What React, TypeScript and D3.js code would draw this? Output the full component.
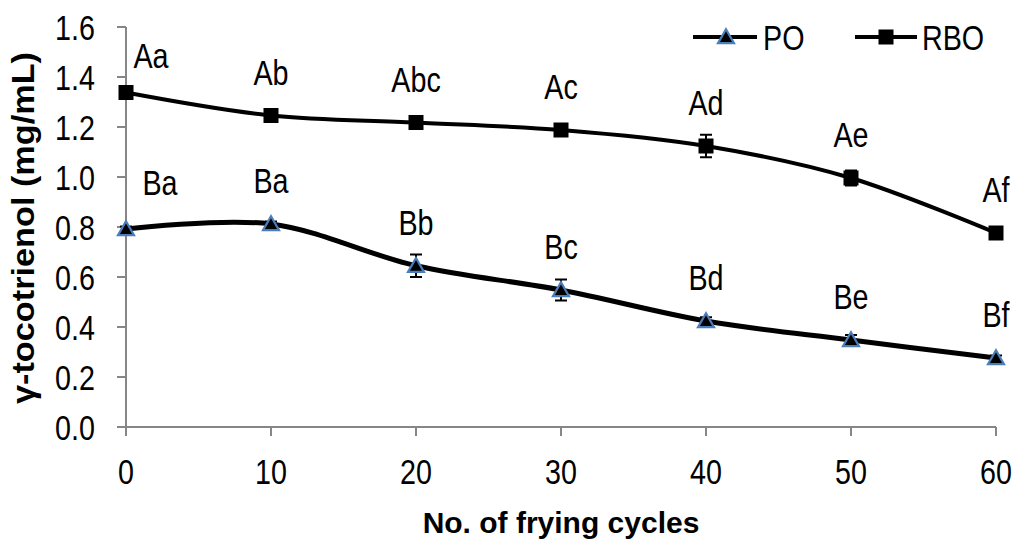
import * as d3 from 'd3';

const cycles = [0, 10, 20, 30, 40, 50, 60];
const poValues = [0.792, 0.812, 0.645, 0.548, 0.424, 0.348, 0.276];
const poErrors = [0.01, 0.01, 0.045, 0.042, 0.015, 0.02, 0.01];
const poLabels = ['Ba', 'Ba', 'Bb', 'Bc', 'Bd', 'Be', 'Bf'];
const rboValues = [1.338, 1.246, 1.218, 1.188, 1.124, 0.996, 0.776];
const rboErrors = [0.022, 0.015, 0.015, 0.015, 0.045, 0.03, 0.015];
const rboLabels = ['Aa', 'Ab', 'Abc', 'Ac', 'Ad', 'Ae', 'Af'];
const yTicks = [0, 0.2, 0.4, 0.6, 0.8, 1.0, 1.2, 1.4, 1.6];
const seriesNames = ['PO', 'RBO'];

const width = 1024;
const height = 550;
const axisColor = '#868686';
const triStroke = '#4a7ebb';
const font = '"Liberation Sans", Arial, sans-serif';

const x = d3.scaleLinear().domain([0, 60]).range([126, 996]);
const y = d3.scaleLinear().domain([0, 1.6]).range([427, 27]);

const line = d3.line<number>()
  .x((_, i) => x(cycles[i]))
  .y(d => y(d))
  .curve(d3.curveCardinal.tension(0));

const triangle = d3.symbol().type(d3.symbolTriangle).size(110);

// condensed text, like the narrow font of the original
const NText = ({ x: tx, y: ty, anchor = 'start', children }:
  { x: number; y: number; anchor?: string; children: any }) => (
  <text transform={`translate(${tx},${ty}) scale(0.82,1)`} textAnchor={anchor}
    fontFamily={font} fontSize={35} fill="#000">{children}</text>
);

const Triangle = ({ cx, cy }: { cx: number; cy: number }) => (
  <path d={triangle() as string} transform={`translate(${cx},${cy + 1.5})`}
    fill="#000" stroke={triStroke} strokeWidth={2.2} />
);

const Square = ({ cx, cy }: { cx: number; cy: number }) => (
  <rect x={cx - 7.5} y={cy - 7.5} width={15} height={15} fill="#000" />
);

const ErrorBars = ({ values, errors }: { values: number[]; errors: number[] }) => (
  <g stroke="#000" strokeWidth={2}>
    {values.map((v, i) => {
      const cx = x(cycles[i]);
      const top = y(v + errors[i]);
      const bot = y(v - errors[i]);
      return (
        <g key={i}>
          <line x1={cx} x2={cx} y1={top} y2={bot} />
          <line x1={cx - 6} x2={cx + 6} y1={top} y2={top} />
          <line x1={cx - 6} x2={cx + 6} y1={bot} y2={bot} />
        </g>
      );
    })}
  </g>
);

const Labels = ({ values, labels, firstShift, firstLift }:
  { values: number[]; labels: string[]; firstShift: number; firstLift: number }) => (
  <g>
    {values.map((v, i) => (
      <NText key={i}
        x={x(cycles[i]) + (i === 0 ? firstShift : 0)}
        y={y(v) - (i === 0 ? firstLift : 31)}
        anchor="middle">{labels[i]}</NText>
    ))}
  </g>
);

export default function App() {
  return (
    <svg width={width} height={height} style={{ position: 'absolute', left: 0, top: 0, background: '#fff' }}>
      {/* y axis */}
      <line x1={x(0)} x2={x(0)} y1={y(1.6)} y2={y(0)} stroke={axisColor} strokeWidth={2} />
      {yTicks.map(t => (
        <g key={t}>
          <line x1={x(0) - 9} x2={x(0)} y1={y(t)} y2={y(t)} stroke={axisColor} strokeWidth={2} />
          <NText x={95} y={y(t) + 12.5} anchor="end">{t.toFixed(1)}</NText>
        </g>
      ))}
      {/* x axis */}
      <line x1={x(0) - 9} x2={x(60)} y1={y(0)} y2={y(0)} stroke={axisColor} strokeWidth={2} />
      {cycles.map(c => (
        <g key={c}>
          <line x1={x(c)} x2={x(c)} y1={y(0)} y2={y(0) + 9} stroke={axisColor} strokeWidth={2} />
          <NText x={x(c)} y={484} anchor="middle">{c}</NText>
        </g>
      ))}
      <text x={561} y={533} textAnchor="middle" fontFamily={font} fontWeight="bold" fontSize={30} fill="#000">
        No. of frying cycles
      </text>
      <text transform="translate(34,228) rotate(-90)" textAnchor="middle" fontFamily={font}
        fontWeight="bold" fontSize={32} fill="#000" textLength={352} lengthAdjust="spacingAndGlyphs">
        γ-tocotrienol (mg/mL)
      </text>

      {/* series */}
      <path d={line(rboValues) as string} fill="none" stroke="#000" strokeWidth={4} />
      <path d={line(poValues) as string} fill="none" stroke="#000" strokeWidth={5} />
      <ErrorBars values={rboValues} errors={rboErrors} />
      <ErrorBars values={poValues} errors={poErrors} />
      {rboValues.map((v, i) => <Square key={i} cx={x(cycles[i])} cy={y(v)} />)}
      {poValues.map((v, i) => <Triangle key={i} cx={x(cycles[i])} cy={y(v)} />)}
      <Labels values={rboValues} labels={rboLabels} firstShift={25} firstLift={25} />
      <Labels values={poValues} labels={poLabels} firstShift={34} firstLift={34} />

      {/* legend */}
      <g>
        <line x1={693} x2={757} y1={37} y2={37} stroke="#000" strokeWidth={4} />
        <Triangle cx={726} cy={37} />
        <NText x={763} y={50}>{seriesNames[0]}</NText>
        <line x1={855} x2={917} y1={37} y2={37} stroke="#000" strokeWidth={4} />
        <Square cx={886} cy={37} />
        <NText x={922} y={50}>{seriesNames[1]}</NText>
      </g>
    </svg>
  );
}
